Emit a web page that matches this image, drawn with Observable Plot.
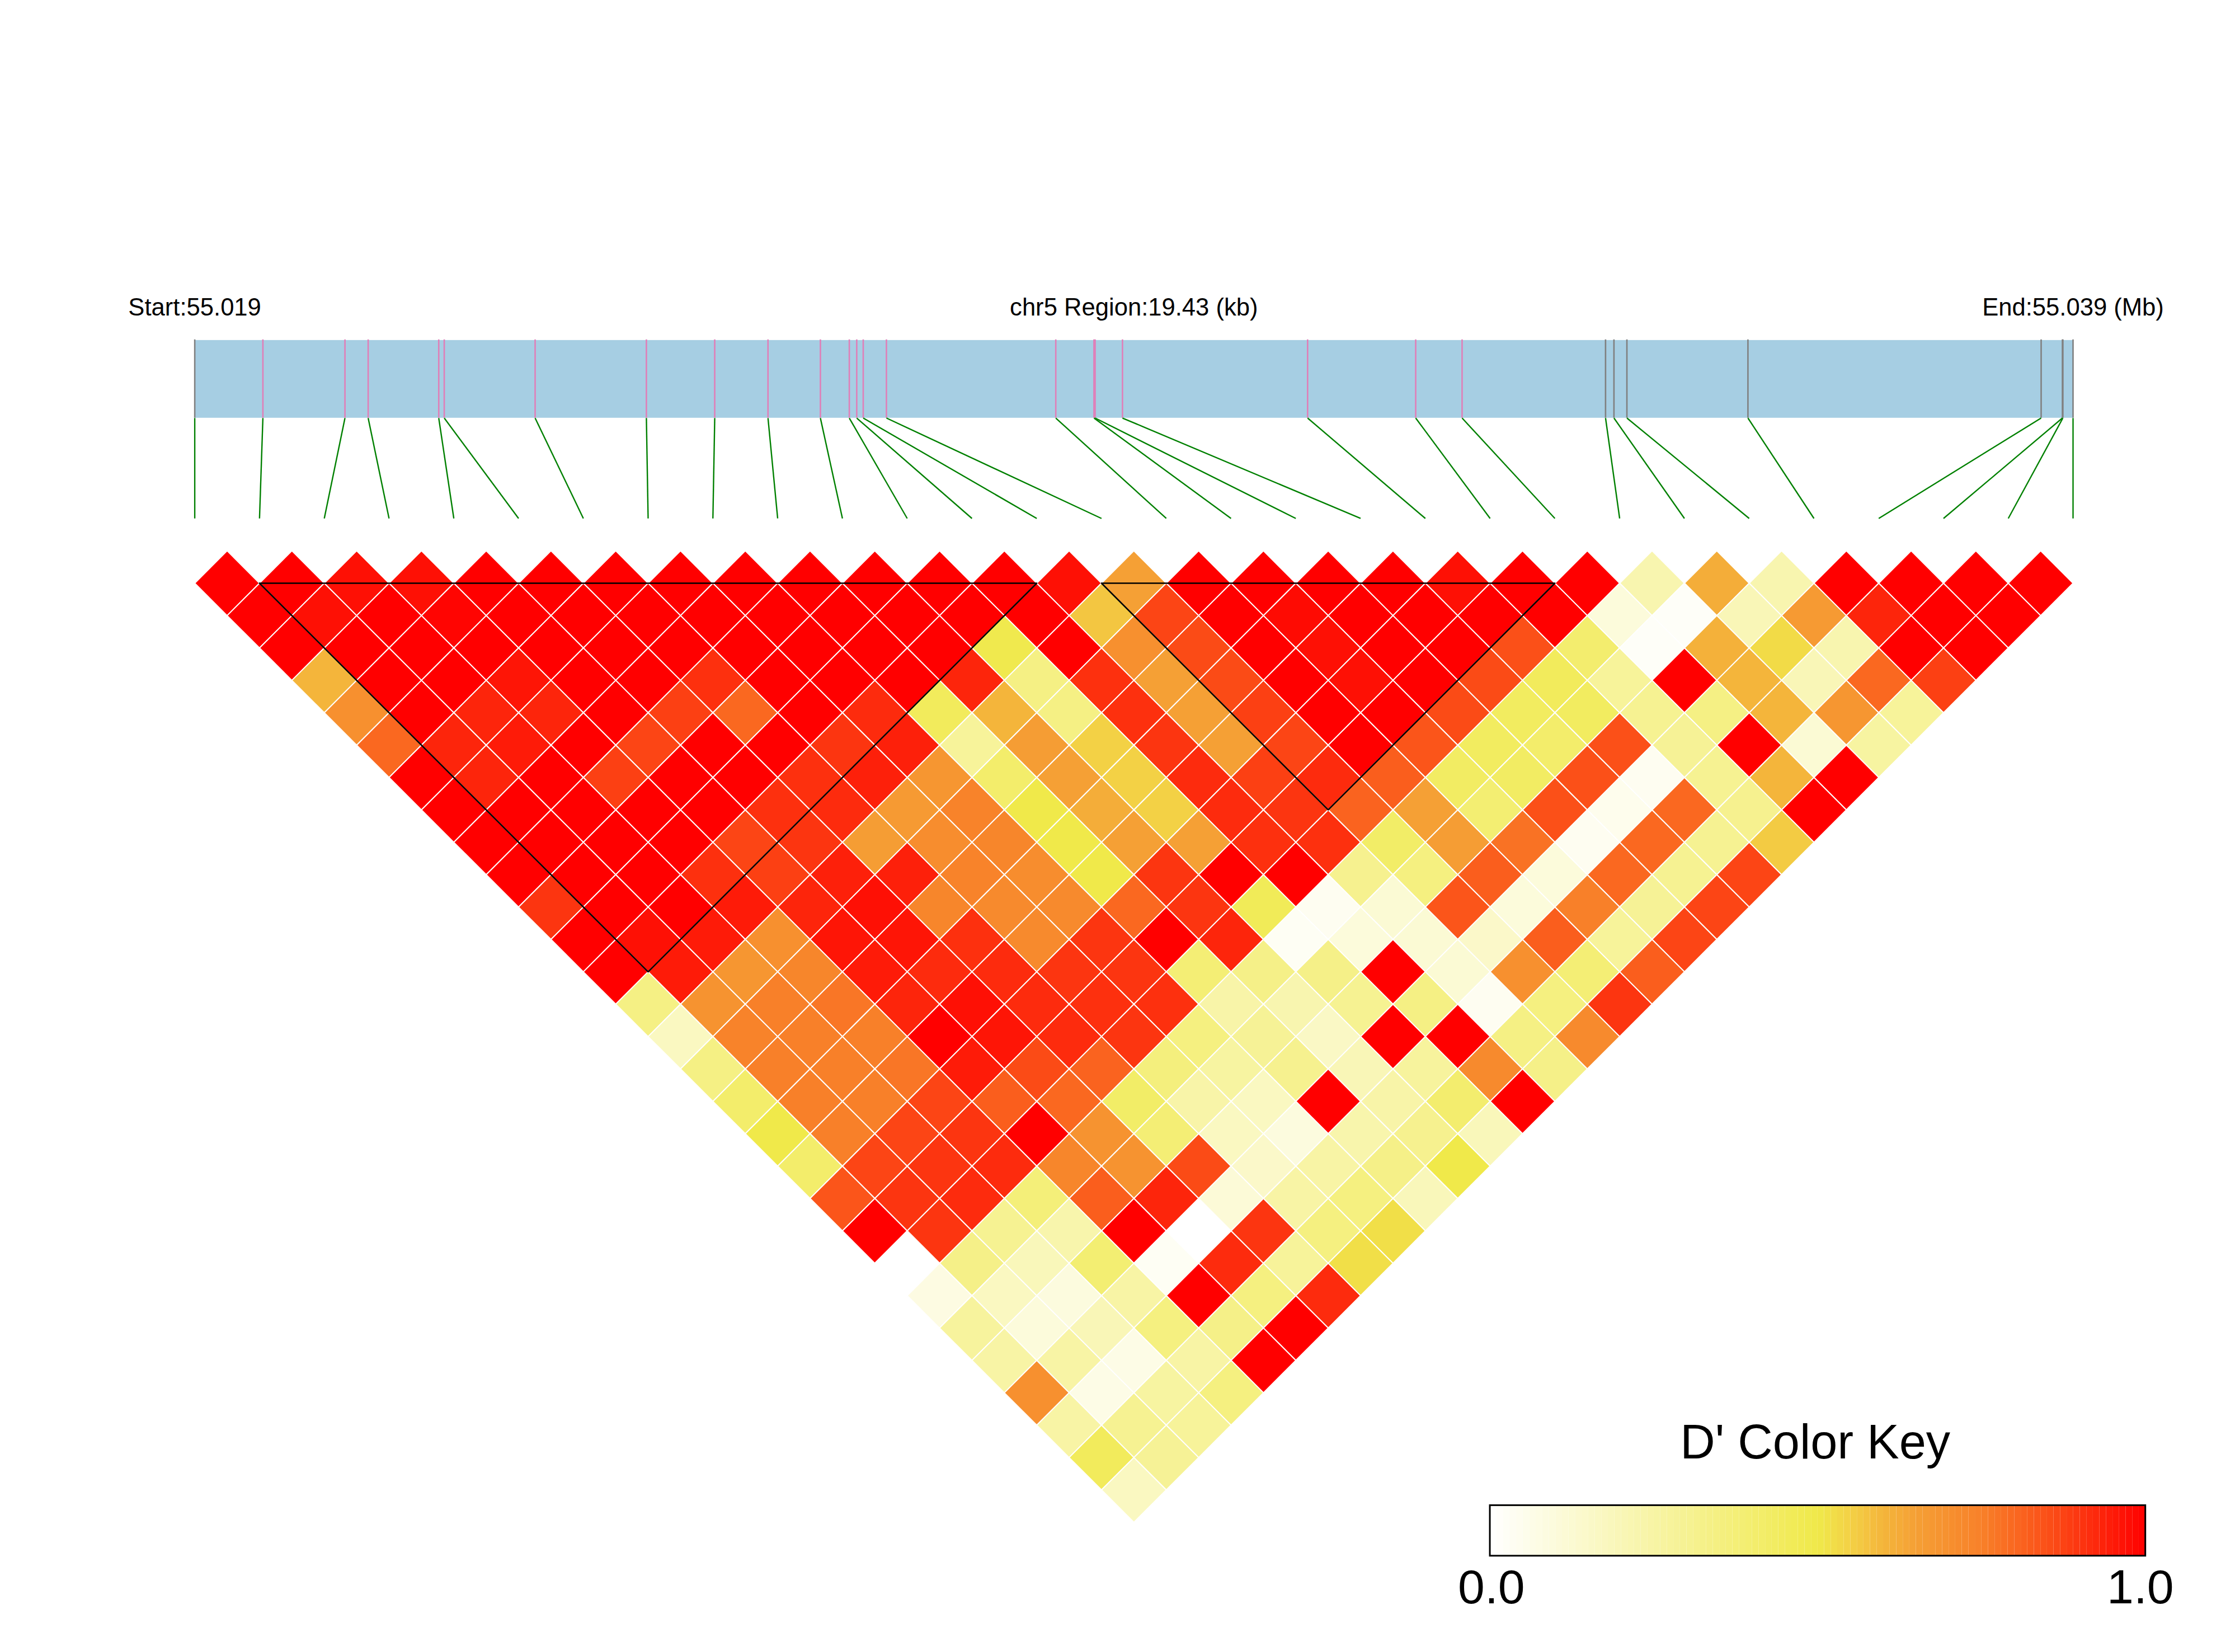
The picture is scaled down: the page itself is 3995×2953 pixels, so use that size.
<!DOCTYPE html>
<html>
<head>
<meta charset="utf-8">
<script src="https://cdn.jsdelivr.net/npm/d3@7"></script>
<script src="https://cdn.jsdelivr.net/npm/@observablehq/plot@0.6"></script>
<style>html,body{margin:0;padding:0;background:#fff}</style>
</head>
<body>
<div id="chart"></div>
<script>
// D' by SNP distance (row n = pairs n SNPs apart), first SNP left to right
const row01 = [1,1,.97,.97,1,1,1,1,1,1,1,1,1,.97,.65,1,1,1,1,.97,1,1,.22,.62,.22,1,1,1,1];
const row02 = [1,.97,1,.99,1,1,1,1,1,1,1,1,1,.57,.87,1,.98,1,1,1,1,.1,.02,.2,.67,.93,1,1];
const row03 = [1,1,1,1,1,1,1,1,1,1,1,.49,1,.7,.86,1,.97,1,1,.85,.4,.02,.61,.53,.22,1,1];
const row04 = [.6,1,1,.96,1,1,.91,1,1,1,.93,.34,.91,.65,.86,1,.97,1,.86,.45,.28,1,.6,.2,.8,.88];
const row05 = [.7,1,.93,.93,1,.88,.8,1,.92,.45,.6,.34,.91,.65,.88,1,1,.86,.44,.44,.3,.34,.6,.68,.28];
const row06 = [.8,.93,.95,1,.87,1,1,.9,.94,.28,.66,.55,.9,.65,.87,1,.84,.44,.41,.85,.29,1,.12,.26];
const row07 = [1,.93,1,.88,1,1,.91,.94,.68,.41,.65,.55,.92,.88,.92,.82,.43,.43,.85,.04,.3,.6,1];
const row08 = [1,1,1,1,1,.91,.92,.67,.74,.5,.62,.55,.92,.9,.81,.65,.39,.85,.05,.8,.31,1];
const row09 = [1,1,1,1,.87,.9,.66,.71,.73,.5,.65,.65,.91,.91,.42,.66,.78,.04,.8,.3,.56];
const row10 = [1,1,1,.91,.88,.94,.94,.74,.71,.5,.9,1,1,.31,.35,.82,.1,.8,.3,.87];
const row11 = [.9,1,1,.95,.93,.97,.73,.72,.72,.8,.9,.46,.04,.12,.84,.1,.75,.29,.87];
const row12 = [1,.97,.95,.7,.96,.96,.91,.72,.9,1,.93,.03,.1,.12,.15,.82,.28,.87];
const row13 = [1,.95,.68,.73,.95,.92,.92,.9,.9,.38,.33,.33,1,.12,.7,.38,.82];
const row14 = [.34,.69,.75,.77,.93,.97,.92,.91,.91,.24,.22,.3,.34,.04,.35,.9];
const row15 = [.17,.74,.75,.75,1,.96,.92,.9,.35,.29,.16,1,1,.34,.72];
const row16 = [.34,.75,.75,.77,.95,.86,.81,.36,.26,.31,.2,.27,.72,.33];
const row17 = [.41,.75,.75,.87,.82,.8,.42,.24,.17,1,.24,.4,1];
const row18 = [.5,.75,.87,.9,1,.69,.38,.17,.09,.23,.31,.19];
const row19 = [.41,.87,.9,.92,.73,.69,.86,.15,.25,.33,.5];
const row20 = [.84,.9,.92,.37,.82,.93,.11,.25,.35,.19];
const row21 = [1,.9,.3,.23,1,0,.9,.35,.52];
const row22 = [0,.33,.19,.39,.03,.92,.28,.52];
const row23 = [.08,.17,.09,.25,1,.35,.92];
const row24 = [.27,.1,.2,.35,.33,1];
const row25 = [.25,.25,.07,.25,1];
const row26 = [.7,.07,.26,.35];
const row27 = [.25,.3,.28];
const row28 = [.45,.29];
const row29 = [.17];

// SNP positions along the region, in kb from the start
const snpKb = [0,.705,1.554,1.794,2.524,2.581,3.521,4.672,5.379,5.93,6.472,6.771,6.848,6.915,7.155,8.907,9.302,9.314,9.597,11.512,12.63,13.11,14.594,14.681,14.815,16.067,19.1,19.32,19.325,19.43];
const regionKb = 19.43;
const greyFirst = [1];            // SNP number drawn grey at the left end
const greyFrom = 23;              // SNPs from this number on are drawn grey

// LD blocks, as first and last SNP
const blocks = [[2,14],[15,22]];

const labels = {start:"Start:55.019", mid:"chr5 Region:19.43 (kb)", end:"End:55.039 (Mb)", key:"D' Color Key", low:"0.0", high:"1.0"};

const colorStops  = [0,.5,.55,.6,.65,.75,.85,1];
const colorValues = ["#ffffff","#f0e94a","#f3d145","#f4b53b","#f5a035","#f88029","#fb5018","#ff0000"];

// Layout, in units of the x (SNP number) and y (row) scales
const barTop = -6.50, barBottom = -4.10, linkBottom = -1.0, textY = -7.26;
const keyX1 = 21, keyX2 = 31.12, keyY1 = 29.48, keyY2 = 31.04;

const rows = [row01,row02,row03,row04,row05,row06,row07,row08,row09,row10,row11,row12,row13,row14,row15,row16,row17,row18,row19,row20,row21,row22,row23,row24,row25,row26,row27,row28,row29];
const cells = rows.flatMap((vals,k) => vals.map((d,idx) => ({x: idx + 1 + (k + 1) / 2, y: k + 1, d})));

const nSnp = snpKb.length;
const kbToX = kb => 1 + kb / regionKb * (nSnp - 1);
const snps = snpKb.map((kb,i) => ({n: i + 1, kb, bx: kbToX(kb), lx: i + 1}));
const isGrey = s => greyFirst.includes(s.n) || s.n >= greyFrom;

const diamond = {draw(ctx, size){
  const s = Math.sqrt(size / Math.PI);
  ctx.moveTo(0,-s); ctx.lineTo(s,0); ctx.lineTo(0,s); ctx.lineTo(-s,0); ctx.closePath();
}};

const blockLines = blocks.map(([a,b]) => [
  {x:a, y:1}, {x:b, y:1}, {x:(a+b)/2, y:1+(b-a)}, {x:a, y:1}
]);

const keySteps = 100;
const keyCells = d3.range(keySteps).map(i => ({
  x1: keyX1 + (keyX2-keyX1)*i/keySteps,
  x2: keyX1 + (keyX2-keyX1)*(i+1)/keySteps,
  v: (i + .5)/keySteps
}));

const svg = Plot.plot({
  width: 3995, height: 2953,
  marginTop: 0, marginRight: 0, marginBottom: 0, marginLeft: 0,
  style: {fontFamily: "'Liberation Sans', Arial, sans-serif", background: "#fff"},
  x: {domain: [1,30], range: [347.6,3705], axis: null},
  y: {domain: [1,29], range: [1042,2662.8], axis: null},
  color: {type: "linear", domain: colorStops, range: colorValues},
  marks: [
    Plot.rect([{}], {x1: 1, x2: nSnp, y1: barTop, y2: barBottom, fill: "#a6cee3"}),
    Plot.ruleX(snps.filter(s => !isGrey(s)), {x: "bx", y1: barTop - .02, y2: barBottom, stroke: "#e07fb8", strokeWidth: 2.6}),
    Plot.ruleX(snps.filter(isGrey), {x: "bx", y1: barTop - .02, y2: barBottom, stroke: "#808080", strokeWidth: 2.6}),
    Plot.link(snps, {x1: "bx", y1: barBottom, x2: "lx", y2: linkBottom, stroke: "#008000", strokeWidth: 2.4}),
    Plot.text([labels.start], {x: 1, y: textY, text: d => d, fontSize: 43.6, textAnchor: "middle", lineAnchor: "bottom", fill: "#000"}),
    Plot.text([labels.mid], {x: 15.5, y: textY, text: d => d, fontSize: 43.6, textAnchor: "middle", lineAnchor: "bottom", fill: "#000"}),
    Plot.text([labels.end], {x: 30, y: textY, text: d => d, fontSize: 43.6, textAnchor: "middle", lineAnchor: "bottom", fill: "#000"}),
    Plot.dot(cells, {x: "x", y: "y", fill: "d", r: 57.885, symbol: diamond, stroke: "#fff", strokeWidth: 2}),
    ...blockLines.map(pts => Plot.line(pts, {x: "x", y: "y", stroke: "#000", strokeWidth: 2.6, curve: "linear"})),
    Plot.rect(keyCells, {x1: "x1", x2: "x2", y1: keyY1, y2: keyY2, fill: "v"}),
    Plot.rect([{}], {x1: keyX1, x2: keyX2, y1: keyY1, y2: keyY2, fill: "none", stroke: "#000", strokeWidth: 3}),
    Plot.text([labels.key], {x: 26.02, y: 28.02, text: d => d, fontSize: 86.5, textAnchor: "middle", lineAnchor: "bottom", fill: "#000"}),
    Plot.text([labels.low], {x: 21.02, y: 32.51, text: d => d, fontSize: 86, textAnchor: "middle", lineAnchor: "bottom", fill: "#000"}),
    Plot.text([labels.high], {x: 31.04, y: 32.51, text: d => d, fontSize: 86, textAnchor: "middle", lineAnchor: "bottom", fill: "#000"})
  ]
});
document.getElementById("chart").appendChild(svg);
</script>
</body>
</html>
